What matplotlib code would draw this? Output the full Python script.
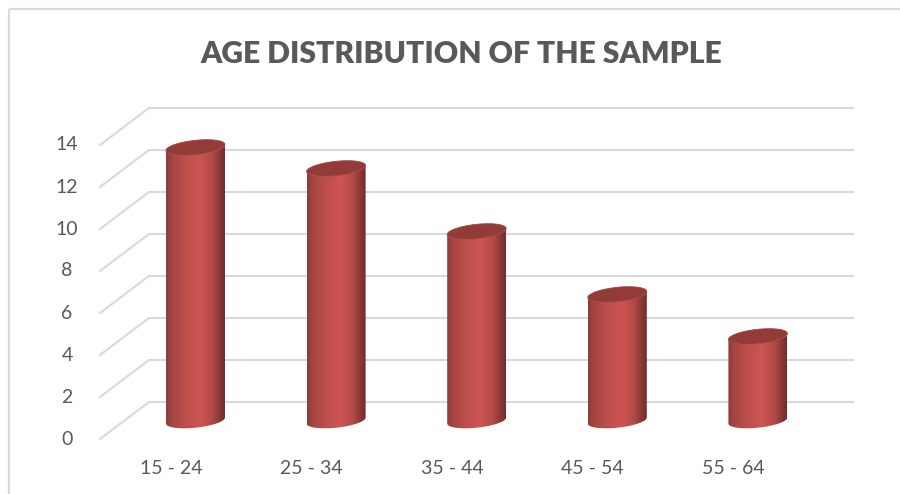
import numpy as np
import matplotlib
matplotlib.use("Agg")
import matplotlib.pyplot as plt
from matplotlib.colors import LinearSegmentedColormap
from matplotlib.patches import Polygon

plt.rcParams['font.family'] = ['Lato', 'DejaVu Sans']

categories = ['15 - 24', '25 - 34', '35 - 44', '45 - 54', '55 - 64']
counts = [13, 12, 9, 6, 4]
y_ticks = [0, 2, 4, 6, 8, 10, 12, 14]
chart_title = 'AGE DISTRIBUTION OF THE SAMPLE'

W, H = 900, 494
PX_PER_UNIT = 21.0     # vertical pixels per value unit
PX_PER_CAT = 140.6     # horizontal pixels between cylinders
X0_PX, Y0_PX = 195.5, 420.5   # pixel position of the first cylinder's base centre

GRID = '#d9d9d9'
TEXT = '#595959'
shade = LinearSegmentedColormap.from_list('cyl', [
    (0.00, '#8e3b39'), (0.12, '#a84643'), (0.35, '#bf504d'),
    (0.58, '#cd5552'), (0.78, '#b34a47'), (0.92, '#873735'), (1.00, '#702d2b')])

fig = plt.figure(figsize=(W / 100, H / 100), dpi=100)
ax = fig.add_axes([0, 0, 1, 1])
xlim = (-X0_PX / PX_PER_CAT, (W - X0_PX) / PX_PER_CAT)
ylim = ((Y0_PX - H) / PX_PER_UNIT, Y0_PX / PX_PER_UNIT)
ax.set_xlim(xlim)
ax.set_ylim(ylim)
ax.axis('off')

def px_x(dx):
    return dx / PX_PER_CAT

def px_y(dy):
    return -dy / PX_PER_UNIT

# outer chart frame, open on the right and bottom
left = px_x(9.5 - X0_PX)
top = px_y(9.5 - Y0_PX)
bottom = px_y(494 - Y0_PX)
ax.plot([left, left], [bottom, top], color=GRID, lw=1.6, solid_capstyle='butt')
ax.plot([left, xlim[1]], [top, top], color=GRID, lw=1.6, solid_capstyle='butt')

# gridlines: side wall diagonal plus back wall
wall_front = px_x(100 - X0_PX)
wall_back = px_x(149 - X0_PX)
wall_right = px_x(853 - X0_PX)
front_off = px_y(18.5)
back_off = px_y(-18.5)
for v in y_ticks:
    ax.plot([wall_front, wall_back, wall_right],
            [v + front_off, v + back_off, v + back_off],
            color=GRID, lw=1.5, solid_joinstyle='miter', zorder=1)
    ax.text(px_x(67 - X0_PX), v + px_y(18.5), str(v), color=TEXT, fontsize=14,
            ha='center', va='center')

# cylinders: shaded body clipped to outline, flat darker lid
half_w = px_x(29.5)
t = np.linspace(0, 2 * np.pi, 121)
cos_t, sin_t = np.cos(t), np.sin(t)
grad = np.linspace(0, 1, 256).reshape(1, -1)
for i, (cat, v) in enumerate(zip(categories, counts)):
    ex = i + half_w * cos_t
    rim = px_y(7.2) * sin_t + px_y(-3) * cos_t
    front = sin_t >= 0
    # front half of each rim, going left to right along the base then back along the top
    order = np.argsort(ex[front])
    bx, by = ex[front][order], rim[front][order]
    outline = np.r_[np.c_[bx, by], np.c_[bx[::-1], by[::-1] + v]]
    im = ax.imshow(grad, cmap=shade, aspect='auto', zorder=3,
                   extent=(i - half_w, i + half_w, -1, v + 1))
    im.set_clip_path(Polygon(outline, closed=True, transform=ax.transData))
    ax.add_patch(Polygon(np.c_[ex, rim + v], closed=True, facecolor='#933b39',
                         edgecolor='#a54542', lw=0.6, zorder=4))
    # category labels sit on the front edge of the floor, left of their cylinders
    ax.text(i + px_x(-24.5), px_y(468 - Y0_PX), cat, color=TEXT, fontsize=14,
            ha='center', va='center')

ax.set_xlim(xlim)
ax.set_ylim(ylim)

ax.text(px_x(461.5 - X0_PX), px_y(54 - Y0_PX), chart_title, color=TEXT, fontsize=21.6,
        fontweight='heavy', ha='center', va='center')

fig.savefig('out.png', dpi=100)
